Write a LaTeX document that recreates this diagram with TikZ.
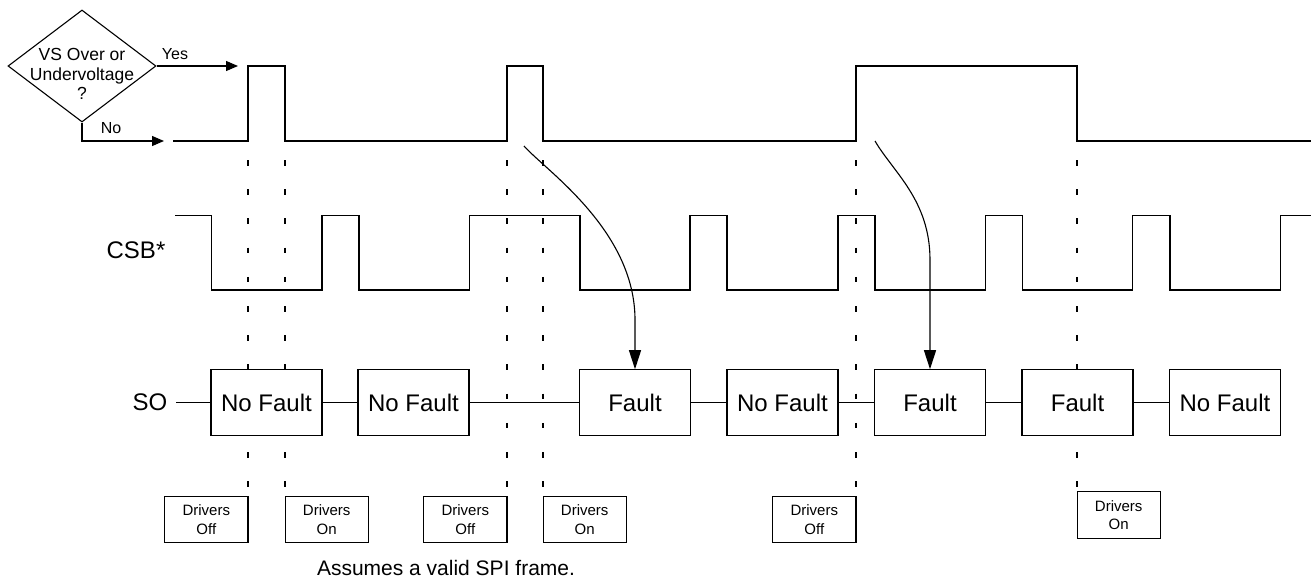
\documentclass[tikz,border=0pt]{standalone}
\usepackage{fontspec}
\setmainfont{Liberation Sans}
\usetikzlibrary{shapes.geometric,arrows.meta}
\begin{document}
\begin{tikzpicture}[x=1pt,y=-1pt,
  wave/.style={line width=1.1pt, line join=miter},
  guide/.style={line width=1.1pt, dash pattern=on 5.5pt off 23.7pt},
  sobox/.style={draw, line width=1.1pt, fill=white, minimum width=111pt, minimum height=65.5pt, inner sep=0pt, font=\fontsize{24}{28}\selectfont},
  drvbox/.style={draw, line width=1.1pt, fill=white, minimum width=83.3pt, minimum height=46.7pt, inner sep=0pt, align=center, font=\fontsize{15}{18.4}\selectfont},
  big/.style={font=\fontsize{24}{28}\selectfont},
  small/.style={font=\fontsize{16}{19.5}\selectfont},
  conn/.style={line width=1.1pt},
  arr/.style={line width=1.1pt, -{Triangle[length=12pt,width=10pt]}},
  bigarr/.style={line width=1.1pt, -{Triangle[length=19pt,width=12pt]}},
]
\useasboundingbox (0,0) rectangle (1311,578);
\fill[white] (0,0) rectangle (1311,578);

% vertical guide lines
\foreach \gx in {248,285,507,543,856,1077}
  \draw[guide] (\gx,160) -- (\gx,487);

% VS waveform
\draw[wave] (173,141) -- (248,141) -- (248,66) -- (285,66) -- (285,141) -- (507,141) -- (507,66) -- (543,66) -- (543,141) -- (856,141) -- (856,66) -- (1077,66) -- (1077,141) -- (1311,141);

% CSB waveform
\draw[wave] (175,215.5) -- (211.5,215.5) -- (211.5,290) -- (322,290) -- (322,215.5) -- (359,215.5) -- (359,290) -- (469.5,290) -- (469.5,215.5) -- (580,215.5) -- (580,290) -- (690,290) -- (690,215.5) -- (727,215.5) -- (727,290) -- (838,290) -- (838,215.5) -- (875,215.5) -- (875,290) -- (985.5,290) -- (985.5,215.5) -- (1022.5,215.5) -- (1022.5,290) -- (1132.5,290) -- (1132.5,215.5) -- (1170,215.5) -- (1170,290) -- (1280.5,290) -- (1280.5,215.5) -- (1311,215.5);

% decision diamond
\node[draw, diamond, line width=1.1pt, minimum width=148pt, minimum height=112pt, inner sep=0pt] (q) at (82,66) {};
\node[font=\fontsize{17.5}{19.8}\selectfont, align=center, inner sep=0pt] (qtext) at (82,74) {VS Over or\\Undervoltage\\?};
\coordinate (yesend) at (238,66);
\coordinate (noend) at (164,141);
\draw[arr] (q.east) -- (yesend);
\draw[arr] (q.south) |- (noend);
\node[small] (yes) at (175,54) {Yes};
\node[small] (no) at (111,128) {No};

% labels
\node[big] (csb) at (136,250) {CSB*};
\node[big, inner xsep=8.6pt, inner ysep=0pt] (so) at (150,402.5) {SO};

% SO boxes
\node[sobox] (b1) at (266.5,402.5) {No Fault};
\node[sobox] (b2) at (413.5,402.5) {No Fault};
\node[sobox] (b3) at (635,402.5) {Fault};
\node[sobox] (b4) at (782.5,402.5) {No Fault};
\node[sobox] (b5) at (930,402.5) {Fault};
\node[sobox] (b6) at (1077.5,402.5) {Fault};
\node[sobox] (b7) at (1225,402.5) {No Fault};
\draw[conn] (so) -- (b1);
\draw[conn] (b1) -- (b2);
\draw[conn] (b2) -- (b3);
\draw[conn] (b3) -- (b4);
\draw[conn] (b4) -- (b5);
\draw[conn] (b5) -- (b6);
\draw[conn] (b6) -- (b7);

% cause arrows
\coordinate (s1) at (524,146);
\coordinate (s2) at (875,141);
\draw[bigarr] (s1) .. controls (545,170) and (635,230) .. (635,320) -- (b3.north);
\draw[bigarr] (s2) .. controls (893,172) and (930,200) .. (930,260) -- (b5.north);

% driver boxes
\node[drvbox] (d1) at (206.3,519.5) {Drivers\\Off};
\node[drvbox] (d2) at (326.7,519.5) {Drivers\\On};
\node[drvbox] (d3) at (465.3,519.5) {Drivers\\Off};
\node[drvbox] (d4) at (584.7,519.5) {Drivers\\On};
\node[drvbox] (d5) at (814.3,519.5) {Drivers\\Off};
\node[drvbox] (d6) at (1118.7,515) {Drivers\\On};

\node[font=\fontsize{21}{25}\selectfont, anchor=base, inner sep=0pt] (note) at (446,575) {Assumes a valid SPI frame.};
\end{tikzpicture}
\end{document}
